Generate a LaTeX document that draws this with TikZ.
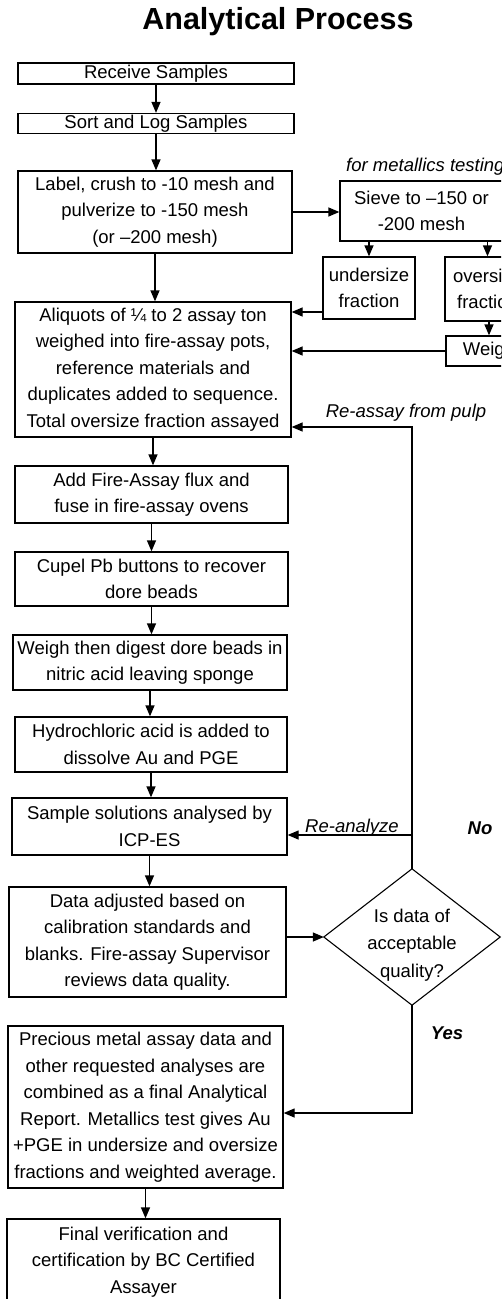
\documentclass[tikz,border=0pt]{standalone}
\usepackage{fontspec}
\setmainfont{Liberation Sans}
\usetikzlibrary{arrows.meta}
\begin{document}
\begin{tikzpicture}[x=1pt,y=-1pt,
  box/.style={draw, line width=1.3pt, align=center, inner sep=0pt, font=\fontsize{18.5}{26.5}\selectfont},
  arr/.style={line width=1.3pt, -{Triangle[length=11pt,width=9pt]}},
  conn/.style={line width=1.3pt},
  lab/.style={font=\fontsize{18.5}{22}\selectfont\itshape, inner sep=0pt},
  yn/.style={font=\fontsize{18.5}{22}\selectfont\bfseries\itshape, inner sep=0pt}]
\useasboundingbox (0,0) rectangle (501,1299);
\clip (0,0) rectangle (501,1299);

\node[inner sep=0pt, font=\fontsize{30.5}{34}\selectfont\bfseries] (title) at (278,22) {Analytical Process};

\node[box, minimum width=276pt, minimum height=21pt] (receive) at (156,73.5) {Receive Samples};
\node[box, minimum width=276pt, minimum height=20pt] (sort) at (156,123.5) {Sort and Log Samples};
\node[box, minimum width=274pt, minimum height=82pt] (label) at (155,212) {Label, crush to -10 mesh and\\pulverize to  -150 mesh\\(or --200 mesh)};
\node[box, minimum width=276pt, minimum height=135pt] (aliq) at (153,369.5) {Aliquots of ¼ to 2 assay ton\\weighed into fire-assay pots,\\reference materials and\\duplicates added to sequence.\\Total oversize fraction assayed};
\node[box, minimum width=273pt, minimum height=57pt] (fire) at (151.5,494.5) {Add Fire-Assay flux and\\fuse in fire-assay ovens};
\node[box, minimum width=273pt, minimum height=54pt] (cupel) at (151.5,579) {Cupel Pb buttons to recover\\dore beads};
\node[box, minimum width=274pt, minimum height=55pt] (weigh) at (150,662.5) {Weigh then digest dore beads in\\nitric acid leaving sponge};
\node[box, minimum width=272pt, minimum height=55pt] (hydro) at (151,744.5) {Hydrochloric acid is added to\\dissolve Au and PGE};
\node[box, minimum width=275pt, minimum height=57pt] (sample) at (149.5,826.5) {Sample solutions analysed by\\ICP-ES};
\node[box, minimum width=277pt, minimum height=110pt] (data) at (147.5,942) {Data adjusted based on\\calibration standards and\\blanks. Fire-assay Supervisor\\reviews data quality.};
\node[box, minimum width=275pt, minimum height=162pt] (precious) at (145.5,1107) {Precious metal assay data and\\other requested analyses are\\combined as a final Analytical\\Report.  Metallics test gives Au\\+PGE in undersize and oversize\\fractions and weighted average.};
\node[box, minimum width=273pt, minimum height=86pt] (final) at (143.5,1262) {Final verification and\\certification by BC Certified\\Assayer};

\node[box, minimum width=163pt, minimum height=60pt] (sieve) at (421.5,211) {Sieve to --150 or\\-200 mesh};
\node[box, minimum width=92pt, minimum height=62pt] (under) at (369,288) {undersize\\fraction};
\node[box, minimum width=85pt, minimum height=64pt] (over) at (487.5,289) {oversize\\fraction};
\node[box, minimum width=86pt, minimum height=30pt] (weighr) at (489,351) {Weigh};

\node[minimum width=176pt, minimum height=136pt, inner sep=0pt] (dec) at (412,937) {};
\draw[line width=1.1pt] (dec.north) -- (dec.east) -- (dec.south) -- (dec.west) -- cycle;
\node[inner sep=0pt, align=center, font=\fontsize{18.5}{27.5}\selectfont] (dectext) at (412,945) {Is data of\\acceptable\\quality?};

\node[lab, anchor=base west] (metlab) at (346,171) {for metallics testing};
\node[lab] (reassay) at (406,413) {Re-assay from pulp};
\node[lab, anchor=base] (reanalyze) at (352,832) {Re-analyze};
\node[yn] (no) at (480,828) {No};
\node[yn] (yes) at (447,1033) {Yes};

\coordinate (y312) at (0,312);
\coordinate (y427) at (0,427);
\coordinate (y835) at (0,835);
\coordinate (y1113) at (0,1113);

% main column
\draw[arr] (receive.south) -- (receive.south |- sort.north);
\draw[arr] (sort.south) -- (sort.south |- label.north);
\draw[arr] (label.south) -- (label.south |- aliq.north);
\draw[arr] (aliq.south) -- (aliq.south |- fire.north);
\draw[arr] (fire.south) -- (fire.south |- cupel.north);
\draw[arr] (cupel.south) -- (cupel.south |- weigh.north);
\draw[arr] (weigh.south) -- (weigh.south |- hydro.north);
\draw[arr] (hydro.south) -- (hydro.south |- sample.north);
\draw[arr] (sample.south) -- (sample.south |- data.north);
\draw[arr] (precious.south) -- (precious.south |- final.north);

% metallics branch
\draw[arr] (label.east) -- (label.east -| sieve.west);
\draw[arr] (sieve.south -| under.north) -- (under.north);
\draw[arr] (sieve.south -| over.north) -- (over.north);
\draw[arr] (over.south -| weighr.north) -- (weighr.north);
\draw[arr] (under.west |- y312) -- (aliq.east |- y312);
\draw[arr] (weighr.west) -- (weighr.west -| aliq.east);

% decision loop
\draw[arr] (data.east |- dec.west) -- (dec.west);
\draw[arr] (dec.north) |- (aliq.east |- y427);
\draw[arr] (dec.north |- y835) -- (sample.east |- y835);
\draw[arr] (dec.south) |- (precious.east |- y1113);
\end{tikzpicture}
\end{document}
